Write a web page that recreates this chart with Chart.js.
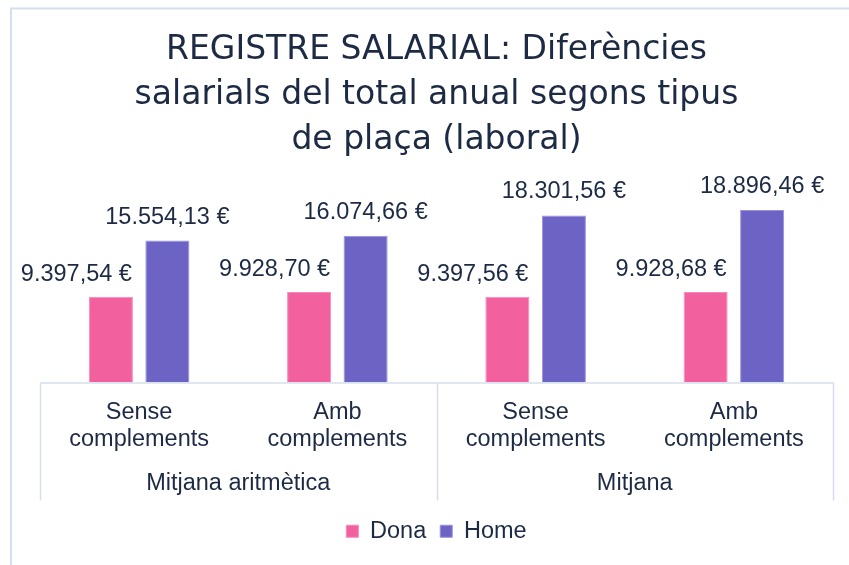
<!DOCTYPE html>
<html>
<head>
<meta charset="utf-8">
<script src="https://cdn.jsdelivr.net/npm/chart.js@4/dist/chart.umd.min.js"></script>
<style>
  html, body { margin: 0; padding: 0; background: #ffffff; }
  #wrap { position: relative; width: 849px; height: 565px; }
</style>
</head>
<body>
<div id="wrap"><canvas id="c" width="849" height="565"></canvas></div>
<script>
// ---- data ----
const titleLines = ['REGISTRE SALARIAL: Diferències', 'salarials del total anual segons tipus', 'de plaça (laboral)'];
const categories = [['Sense', 'complements'], ['Amb', 'complements'], ['Sense', 'complements'], ['Amb', 'complements']];
const groupLabels = ['Mitjana aritmètica', 'Mitjana'];
const groupSizes = [2, 2];
const seriesNames = ['Dona', 'Home'];
const donaValues = [9397.54, 9928.70, 9397.56, 9928.68];
const homeValues = [15554.13, 16074.66, 18301.56, 18896.46];

// ---- styles ----
const TEXT = '#1d2a44';
const LINE = '#d5dfef';
const LABEL_FONT = '23.5px "Liberation Sans", Arial, sans-serif';

function fmtEuro(v) {
  const parts = v.toFixed(2).split('.');
  const intPart = parts[0].replace(/\B(?=(\d{3})+(?!\d))/g, '.');
  return intPart + ',' + parts[1] + ' €';
}

const decorPlugin = {
  id: 'decor',
  beforeDraw(chart) {
    const ctx = chart.ctx;
    ctx.save();
    ctx.strokeStyle = LINE;
    ctx.lineWidth = 2;
    ctx.strokeRect(11, 8.5, 1000, 1000);
    ctx.restore();
  },
  afterDraw(chart) {
    const ctx = chart.ctx;
    const xs = chart.scales.x;
    const area = chart.chartArea;
    const bottom = area.bottom;
    ctx.save();
    // axis line and group separators
    ctx.strokeStyle = LINE;
    ctx.lineWidth = 1.5;
    ctx.beginPath();
    ctx.moveTo(area.left, bottom + 0.5);
    ctx.lineTo(area.right, bottom + 0.5);
    const n = categories.length;
    const catW = (area.right - area.left) / n;
    let idx = 0;
    const seps = [area.left];
    groupSizes.forEach(s => { idx += s; seps.push(xs.getPixelForValue(idx - 1) + catW / 2); });
    seps.forEach(x => {
      ctx.moveTo(Math.round(x) + 0.5, bottom);
      ctx.lineTo(Math.round(x) + 0.5, bottom + 118);
    });
    ctx.stroke();

    // category labels
    ctx.fillStyle = TEXT;
    ctx.font = LABEL_FONT;
    ctx.textAlign = 'center';
    ctx.textBaseline = 'alphabetic';
    categories.forEach((lines, i) => {
      const x = xs.getPixelForValue(i);
      lines.forEach((t, j) => ctx.fillText(t, x, bottom + 36 + j * 27));
    });
    // group labels
    groupLabels.forEach((g, gi) => {
      const x = (seps[gi] + seps[gi + 1]) / 2;
      ctx.fillText(g, x, bottom + 107);
    });

    // data labels
    chart.data.datasets.forEach((ds, di) => {
      const meta = chart.getDatasetMeta(di);
      meta.data.forEach((bar, i) => {
        const txt = fmtEuro(ds.data[i]);
        if (di === 0) {
          ctx.textAlign = 'right';
          ctx.fillText(txt, bar.x + bar.width / 2 - 1, bar.y - 16);
        } else {
          ctx.textAlign = 'center';
          ctx.fillText(txt, bar.x, bar.y - 17);
        }
      });
    });
    ctx.restore();
  }
};

new Chart(document.getElementById('c'), {
  type: 'bar',
  data: {
    labels: categories,
    datasets: [
      { label: seriesNames[0], data: donaValues, backgroundColor: '#f2609e', borderColor: '#f58ab8', borderWidth: 1 },
      { label: seriesNames[1], data: homeValues, backgroundColor: '#6c63c4', borderColor: '#9891dc', borderWidth: 1 }
    ]
  },
  options: {
    responsive: false,
    devicePixelRatio: 1,
    animation: false,
    layout: { padding: { left: 40, right: 16, top: 0, bottom: 12 } },
    datasets: { bar: { categoryPercentage: 0.57, barPercentage: 0.78 } },
    scales: {
      x: {
        display: true,
        grid: { display: false },
        border: { display: false },
        ticks: { display: false },
        afterFit(scale) { scale.height = 123; }
      },
      y: { display: false, min: 0, max: 20000 }
    },
    plugins: {
      title: {
        display: true,
        text: titleLines,
        color: TEXT,
        font: { family: '"DejaVu Sans", sans-serif', size: 33, weight: 'normal', lineHeight: '45px' },
        padding: { top: 28, bottom: 37 }
      },
      legend: {
        display: true,
        position: 'bottom',
        labels: {
          color: TEXT,
          font: { family: '"Liberation Sans", Arial, sans-serif', size: 23.5 },
          boxWidth: 12,
          boxHeight: 12,
          padding: 14
        }
      },
      tooltip: { enabled: false }
    }
  },
  plugins: [decorPlugin]
});
</script>
</body>
</html>
